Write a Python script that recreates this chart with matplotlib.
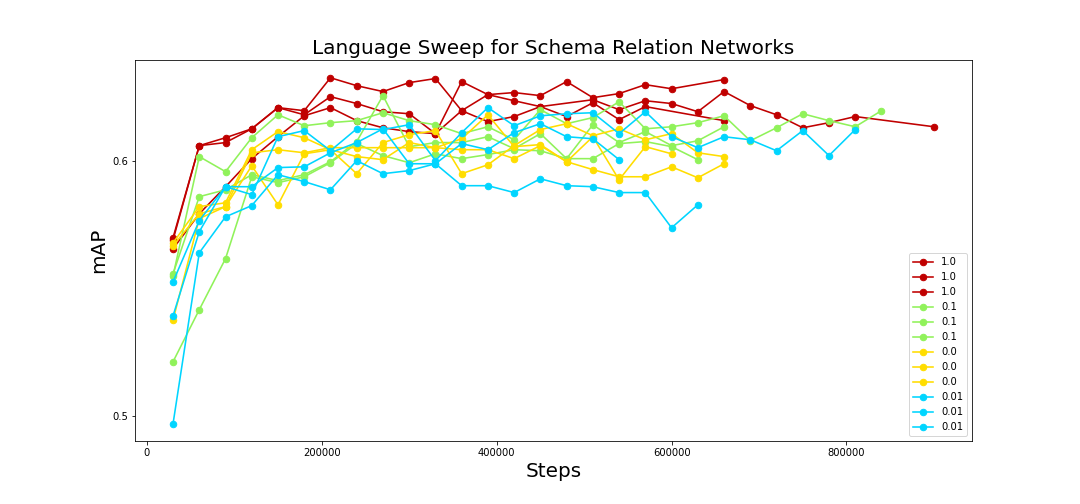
import matplotlib
matplotlib.use("Agg")
import matplotlib.pyplot as plt

# steps (x) for each run
steps_r1 = [30000, 60000, 90000, 120000, 150000, 180000, 210000, 240000, 270000, 300000,
            330000, 360000, 390000, 420000, 450000, 480000, 510000, 540000, 570000, 660000]
steps_r2 = [30000, 60000, 90000, 120000, 150000, 180000, 210000, 240000, 270000, 300000,
            330000, 360000, 390000, 420000, 450000, 480000, 510000, 540000, 570000, 600000, 660000]
steps_r3 = [30000, 60000, 90000, 120000, 150000, 180000, 210000, 240000, 270000, 300000,
            330000, 360000, 390000, 420000, 450000, 510000, 540000, 570000, 600000, 630000,
            660000, 690000, 720000, 750000, 780000, 810000, 900000]
steps_g1 = [30000, 60000, 90000, 120000, 150000, 180000, 210000, 240000, 270000, 300000,
            330000, 360000, 390000, 420000, 450000, 480000, 510000, 540000, 570000, 600000,
            630000, 660000, 690000, 720000, 750000, 780000, 810000, 840000]
steps_22 = [30000, 60000, 90000, 120000, 150000, 180000, 210000, 240000, 270000, 300000,
            330000, 360000, 390000, 420000, 450000, 480000, 510000, 540000, 570000, 600000,
            630000, 660000]
steps_21 = steps_22[:21]
steps_20 = steps_22[:20]
steps_18 = steps_22[:18]
steps_c1 = steps_g1[:27]

# mAP values
map_r1 = [0.5698, 0.6059, 0.6090, 0.6125, 0.6208, 0.6196, 0.6325, 0.6294, 0.6271, 0.6306,
          0.6322, 0.6196, 0.6259, 0.6235, 0.6212, 0.6173, 0.6227, 0.6161, 0.6212, 0.6157]
map_r2 = [0.5690, 0.6059, 0.6071, 0.6125, 0.6208, 0.6180, 0.6251, 0.6224, 0.6192, 0.6184,
          0.6106, 0.6310, 0.6259, 0.6267, 0.6255, 0.6310, 0.6247, 0.6263, 0.6298, 0.6282, 0.6318]
map_r3 = [0.5655, 0.5792, 0.5898, 0.6008, 0.6094, 0.6176, 0.6208, 0.6157, 0.6129, 0.6114,
          0.6106, 0.6196, 0.6153, 0.6173, 0.6212, 0.6239, 0.6200, 0.6235, 0.6224, 0.6192,
          0.6271, 0.6216, 0.6180, 0.6129, 0.6149, 0.6173, 0.6133]

map_g1 = [0.5549, 0.6016, 0.5957, 0.6090, 0.6180, 0.6137, 0.6149, 0.6157, 0.6188, 0.6157,
          0.6141, 0.6106, 0.6133, 0.6082, 0.6200, 0.6145, 0.6169, 0.6231, 0.6125, 0.6133,
          0.6149, 0.6176, 0.6078, 0.6129, 0.6184, 0.6157, 0.6133, 0.6196]
map_g2 = [0.5557, 0.5859, 0.5886, 0.5945, 0.5922, 0.5945, 0.5996, 0.6075, 0.6255, 0.6055,
          0.6071, 0.6071, 0.6094, 0.6047, 0.6106, 0.6008, 0.6141, 0.6071, 0.6114, 0.6059,
          0.6078, 0.6133]
map_g3 = [0.5212, 0.5416, 0.5616, 0.5937, 0.5914, 0.5937, 0.5992, 0.6067, 0.6020, 0.5992,
          0.6027, 0.6008, 0.6024, 0.6043, 0.6039, 0.6008, 0.6008, 0.6067, 0.6075, 0.6055, 0.6004]

map_y1 = [0.5678, 0.5820, 0.5835, 0.6043, 0.6114, 0.6090, 0.6043, 0.5949, 0.6071, 0.6102,
          0.6118, 0.5949, 0.5984, 0.6059, 0.6122, 0.6145, 0.6098, 0.6125, 0.6082, 0.6106,
          0.6031, 0.6016]
map_y2 = [0.5667, 0.5792, 0.5820, 0.6031, 0.6043, 0.6031, 0.6051, 0.6051, 0.6051, 0.6051,
          0.6051, 0.6043, 0.6043, 0.6008, 0.6059, 0.5996, 0.5965, 0.5937, 0.5937, 0.5976,
          0.5933, 0.5988]
map_y3 = [0.5376, 0.5773, 0.5820, 0.5980, 0.5827, 0.6027, 0.6043, 0.6016, 0.6004, 0.6071,
          0.6051, 0.6086, 0.6180, 0.6055, 0.6063, 0.5996, 0.6094, 0.5925, 0.6055, 0.6027]

map_c1 = [0.5525, 0.5765, 0.5898, 0.5867, 0.6094, 0.6118, 0.6039, 0.6125, 0.6122, 0.6141,
          0.6000, 0.6110, 0.6208, 0.6137, 0.6176, 0.6184, 0.6188, 0.6106, 0.6192, 0.6094,
          0.6051, 0.6094, 0.6082, 0.6039, 0.6118, 0.6020, 0.6122]
map_c2 = [0.5392, 0.5722, 0.5898, 0.5898, 0.5973, 0.5976, 0.6031, 0.6071, 0.6125, 0.5988,
          0.5988, 0.6067, 0.6043, 0.6110, 0.6145, 0.6094, 0.6086, 0.6004]
map_c3 = [0.4969, 0.5639, 0.5780, 0.5824, 0.5945, 0.5918, 0.5886, 0.6000, 0.5949, 0.5961,
          0.5988, 0.5902, 0.5902, 0.5875, 0.5929, 0.5902, 0.5898, 0.5875, 0.5875, 0.5737, 0.5827]

ytick_vals = [0.5, 0.6]
ytick_labels = ['0.5', '0.6']

runs = [
    ('1.0', '#c00000', steps_r1, map_r1),
    ('1.0', '#c00000', steps_r2, map_r2),
    ('1.0', '#c00000', steps_r3, map_r3),
    ('0.1', '#90f25a', steps_g1, map_g1),
    ('0.1', '#90f25a', steps_22, map_g2),
    ('0.1', '#90f25a', steps_21, map_g3),
    ('0.0', '#ffdd00', steps_22, map_y1),
    ('0.0', '#ffdd00', steps_22, map_y2),
    ('0.0', '#ffdd00', steps_20, map_y3),
    ('0.01', '#00d5ff', steps_c1, map_c1),
    ('0.01', '#00d5ff', steps_18, map_c2),
    ('0.01', '#00d5ff', steps_21, map_c3),
]

fig = plt.figure(figsize=(15, 7), dpi=72)
ax = fig.add_subplot(111)
fig.subplots_adjust(left=0.125, right=0.9, top=0.88, bottom=0.125)

for label, color, xs, ys in runs:
    ax.plot(xs, ys, marker='o', color=color, label=label, markersize=6.5, linewidth=1.6)

ax.set_yticks(ytick_vals)
ax.set_yticklabels(ytick_labels)
ax.set_title('Language Sweep for Schema Relation Networks', fontsize=20)
ax.set_xlabel('Steps', fontsize=20)
ax.set_ylabel('mAP', fontsize=20)
ax.legend(loc='lower right')

fig.savefig('out.png', dpi=72)
